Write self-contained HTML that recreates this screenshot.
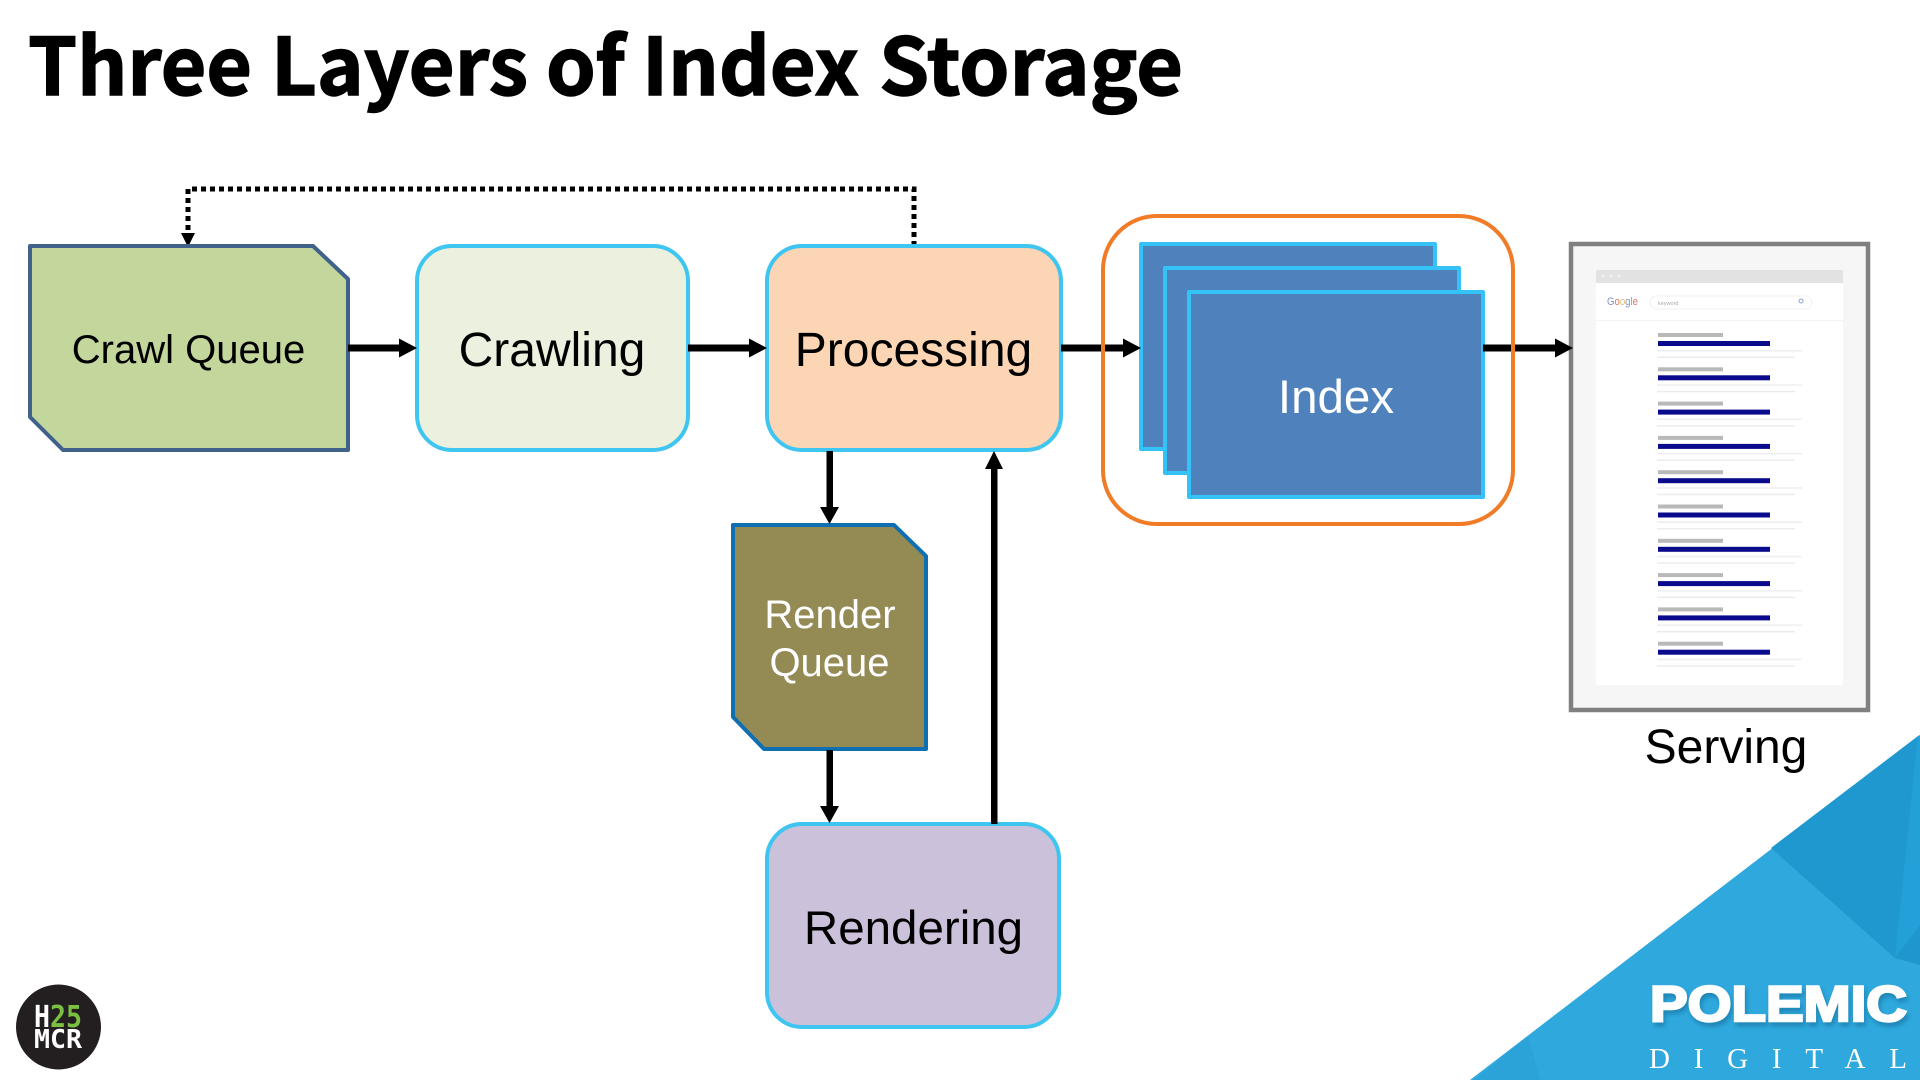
<!DOCTYPE html>
<html lang="en">
<head>
<meta charset="utf-8">
<title>Three Layers of Index Storage</title>
<style>
html,body{margin:0;padding:0;background:#fff;width:1920px;height:1080px;overflow:hidden}
svg{display:block}
text{font-family:"Liberation Sans",Arial,sans-serif}
.t{font-family:"Noto Sans CJK JP","Liberation Sans",sans-serif;font-size:79px;font-weight:700;fill:#000;stroke:#000;stroke-width:1.4px}
</style>
</head>
<body>
<svg xmlns="http://www.w3.org/2000/svg" width="1920" height="1080" viewBox="0 0 1920 1080">
<defs><filter id="b" x="-10%" y="-30%" width="120%" height="160%"><feGaussianBlur stdDeviation="2"/></filter></defs>
<rect width="1920" height="1080" fill="#fff"/>

<!-- Title -->
<text class="t" x="28" y="95" textLength="224" lengthAdjust="spacingAndGlyphs">Three</text>
<text class="t" x="271" y="95" textLength="257" lengthAdjust="spacingAndGlyphs">Layers</text>
<text class="t" x="546" y="95" textLength="79" lengthAdjust="spacingAndGlyphs">of</text>
<text class="t" x="642" y="95" textLength="217" lengthAdjust="spacingAndGlyphs">Index</text>
<text class="t" x="879" y="95" textLength="304" lengthAdjust="spacingAndGlyphs">Storage</text>

<!-- Bottom-right corner -->
<polygon points="1470,1080 1920,735 1920,1080" fill="#2fa8dd"/>
<polygon points="1771,848 1918,736 1895,958" fill="#1e98cf"/>
<polygon points="1918,736 1920,735 1920,925 1895,958" fill="#22a0d7"/>
<polygon points="1895,958 1920,925 1920,965" fill="#1f96cd"/>
<polygon points="1528,1036 1540,1080 1475,1080" fill="#2a9fd6" opacity=".6"/>
<text x="1650" y="1021" font-size="50" font-weight="700" fill="#0f5f88" opacity=".45" textLength="257" lengthAdjust="spacingAndGlyphs" stroke="#0f5f88" stroke-width="2.500" transform="translate(2,4)" filter="url(#b)">POLEMIC</text>
<text x="1650" y="1021" font-size="50" font-weight="700" fill="#fff" stroke="#fff" stroke-width="2.500" textLength="257" lengthAdjust="spacingAndGlyphs">POLEMIC</text>
<text x="1649" y="1068" font-size="29" fill="#fff" style="font-family:'Liberation Serif',serif" textLength="258" lengthAdjust="spacing">DIGITAL</text>

<!-- Logo -->
<circle cx="58.500" cy="1027" r="42.500" fill="#231f20"/>
<text x="34" y="1027" font-size="30" font-weight="700" fill="#fff" style="font-family:'DejaVu Sans Mono',monospace" textLength="48" lengthAdjust="spacingAndGlyphs">H<tspan fill="#7ac142">25</tspan></text>
<text x="34" y="1048" font-size="26" font-weight="700" fill="#fff" style="font-family:'DejaVu Sans Mono',monospace" textLength="48" lengthAdjust="spacingAndGlyphs">MCR</text>

<!-- Dotted feedback connector -->
<path d="M914 246 V189 H188 V233" fill="none" stroke="#000" stroke-width="5" stroke-dasharray="5 4"/>
<polygon points="181,233 195,233 188,247" fill="#000"/>

<!-- Crawl Queue -->
<polygon points="30,246 313,246 348,279 348,450 63,450 30,417" fill="#c3d69b" stroke="#3f618a" stroke-width="4" stroke-linejoin="round"/>
<text x="188.500" y="363" font-size="40" text-anchor="middle" fill="#000">Crawl Queue</text>

<!-- Crawling -->
<rect x="417" y="246" width="271" height="204" rx="35" fill="#ebf1de" stroke="#3ec6f0" stroke-width="4"/>
<text x="552" y="366" font-size="48" text-anchor="middle" fill="#000">Crawling</text>

<!-- Processing -->
<rect x="767" y="246" width="294" height="204" rx="35" fill="#fcd5b5" stroke="#3ec6f0" stroke-width="4"/>
<text x="913.500" y="366" font-size="48" text-anchor="middle" fill="#000">Processing</text>

<!-- Render Queue -->
<polygon points="733,525 894,525 926,556 926,749 764,749 733,717" fill="#948a54" stroke="#0f6fb0" stroke-width="4" stroke-linejoin="round"/>
<text x="830" y="628" font-size="40" text-anchor="middle" fill="#fff">Render</text>
<text x="829.500" y="676" font-size="40" text-anchor="middle" fill="#fff">Queue</text>

<!-- Rendering -->
<rect x="767" y="824" width="292" height="203" rx="35" fill="#ccc1da" stroke="#3ec6f0" stroke-width="4"/>
<text x="913.500" y="944" font-size="47.500" text-anchor="middle" fill="#000">Rendering</text>

<!-- Index group -->
<rect x="1103" y="216" width="410" height="308" rx="54" fill="#fff" stroke="#f07c28" stroke-width="4"/>
<rect x="1141" y="244" width="294" height="205" fill="#4f81bd" stroke="#33c3f7" stroke-width="4" stroke-linejoin="round"/>
<rect x="1165" y="268" width="294" height="205" fill="#4f81bd" stroke="#33c3f7" stroke-width="4" stroke-linejoin="round"/>
<rect x="1189" y="292" width="294" height="205" fill="#4f81bd" stroke="#33c3f7" stroke-width="4" stroke-linejoin="round"/>
<text x="1336" y="413" font-size="47.500" text-anchor="middle" fill="#fff">Index</text>

<!-- Connectors -->
<g fill="#000">
<rect x="348" y="344.500" width="52" height="7"/><polygon points="399,338.500 417,348 399,357.500"/>
<rect x="688" y="344.500" width="62" height="7"/><polygon points="749,338.500 767,348 749,357.500"/>
<rect x="1061" y="344.500" width="63" height="7"/><polygon points="1123,338.500 1141,348 1123,357.500"/>
<rect x="1483" y="344.500" width="72" height="7"/>
<rect x="826.500" y="451" width="6.500" height="57"/><polygon points="820,507 839,507 829.500,524"/>
<rect x="826.500" y="750" width="6.500" height="57"/><polygon points="820,806 839,806 829.500,823"/>
<rect x="991" y="467" width="6.500" height="357"/><polygon points="985,469 1003,469 994,451"/>
</g>
<path d="M1101 344.500 h4 v7 h-4 z M1511 344.500 h4 v7 h-4 z" fill="#f07c28"/>

<!-- Serving thumbnail -->
<rect x="1571" y="244" width="297" height="466" fill="#f6f6f6" stroke="#808080" stroke-width="4.500"/>
<rect x="1596" y="270" width="247" height="415" rx="2" fill="#fff"/>
<path d="M1596 283 v-11 a2 2 0 0 1 2 -2 h243 a2 2 0 0 1 2 2 v11 z" fill="#e2e2e2"/>
<circle cx="1603" cy="276" r="1.300" fill="#f5f5f5"/><circle cx="1611" cy="276" r="1.300" fill="#f5f5f5"/><circle cx="1619" cy="276" r="1.300" fill="#f5f5f5"/>
<text x="1607" y="305" font-size="11" textLength="31" lengthAdjust="spacingAndGlyphs" fill="#7d93c4">G<tspan fill="#d9776a">o</tspan><tspan fill="#e0c060">o</tspan>g<tspan fill="#7fb07f">l</tspan><tspan fill="#d9776a">e</tspan></text>
<rect x="1650" y="296" width="162" height="13" rx="6.500" fill="#fff" stroke="#f1f1f1"/>
<text x="1658" y="305" font-size="5.500" fill="#a8a8a8">keyword</text>
<circle cx="1801" cy="301" r="2" fill="none" stroke="#8aa4d0"/>
<rect x="1596" y="320" width="247" height="1" fill="#f4f4f4"/>
<g id="results">
<g><rect x="1658" y="333" width="65" height="4" fill="#b9b9b9"/><rect x="1658" y="341" width="112" height="5" fill="#0a0a8c"/><rect x="1657" y="350" width="145" height="1.500" fill="#eeeef2"/><rect x="1657" y="356.500" width="138" height="1.500" fill="#ececf0"/></g>
<g transform="translate(0,34.300)"><rect x="1658" y="333" width="65" height="4" fill="#b9b9b9"/><rect x="1658" y="341" width="112" height="5" fill="#0a0a8c"/><rect x="1657" y="350" width="145" height="1.500" fill="#eeeef2"/><rect x="1657" y="356.500" width="138" height="1.500" fill="#ececf0"/></g>
<g transform="translate(0,68.600)"><rect x="1658" y="333" width="65" height="4" fill="#b9b9b9"/><rect x="1658" y="341" width="112" height="5" fill="#0a0a8c"/><rect x="1657" y="350" width="145" height="1.500" fill="#eeeef2"/><rect x="1657" y="356.500" width="138" height="1.500" fill="#ececf0"/></g>
<g transform="translate(0,102.900)"><rect x="1658" y="333" width="65" height="4" fill="#b9b9b9"/><rect x="1658" y="341" width="112" height="5" fill="#0a0a8c"/><rect x="1657" y="350" width="145" height="1.500" fill="#eeeef2"/><rect x="1657" y="356.500" width="138" height="1.500" fill="#ececf0"/></g>
<g transform="translate(0,137.200)"><rect x="1658" y="333" width="65" height="4" fill="#b9b9b9"/><rect x="1658" y="341" width="112" height="5" fill="#0a0a8c"/><rect x="1657" y="350" width="145" height="1.500" fill="#eeeef2"/><rect x="1657" y="356.500" width="138" height="1.500" fill="#ececf0"/></g>
<g transform="translate(0,171.500)"><rect x="1658" y="333" width="65" height="4" fill="#b9b9b9"/><rect x="1658" y="341" width="112" height="5" fill="#0a0a8c"/><rect x="1657" y="350" width="145" height="1.500" fill="#eeeef2"/><rect x="1657" y="356.500" width="138" height="1.500" fill="#ececf0"/></g>
<g transform="translate(0,205.800)"><rect x="1658" y="333" width="65" height="4" fill="#b9b9b9"/><rect x="1658" y="341" width="112" height="5" fill="#0a0a8c"/><rect x="1657" y="350" width="145" height="1.500" fill="#eeeef2"/><rect x="1657" y="356.500" width="138" height="1.500" fill="#ececf0"/></g>
<g transform="translate(0,240.100)"><rect x="1658" y="333" width="65" height="4" fill="#b9b9b9"/><rect x="1658" y="341" width="112" height="5" fill="#0a0a8c"/><rect x="1657" y="350" width="145" height="1.500" fill="#eeeef2"/><rect x="1657" y="356.500" width="138" height="1.500" fill="#ececf0"/></g>
<g transform="translate(0,274.400)"><rect x="1658" y="333" width="65" height="4" fill="#b9b9b9"/><rect x="1658" y="341" width="112" height="5" fill="#0a0a8c"/><rect x="1657" y="350" width="145" height="1.500" fill="#eeeef2"/><rect x="1657" y="356.500" width="138" height="1.500" fill="#ececf0"/></g>
<g transform="translate(0,308.700)"><rect x="1658" y="333" width="65" height="4" fill="#b9b9b9"/><rect x="1658" y="341" width="112" height="5" fill="#0a0a8c"/><rect x="1657" y="350" width="145" height="1.500" fill="#eeeef2"/><rect x="1657" y="356.500" width="138" height="1.500" fill="#ececf0"/></g>
</g>
<polygon points="1555,338.500 1573,348 1555,357.500" fill="#000"/>
<text x="1726" y="763" font-size="48" text-anchor="middle" fill="#000">Serving</text>
</svg>
</body>
</html>
